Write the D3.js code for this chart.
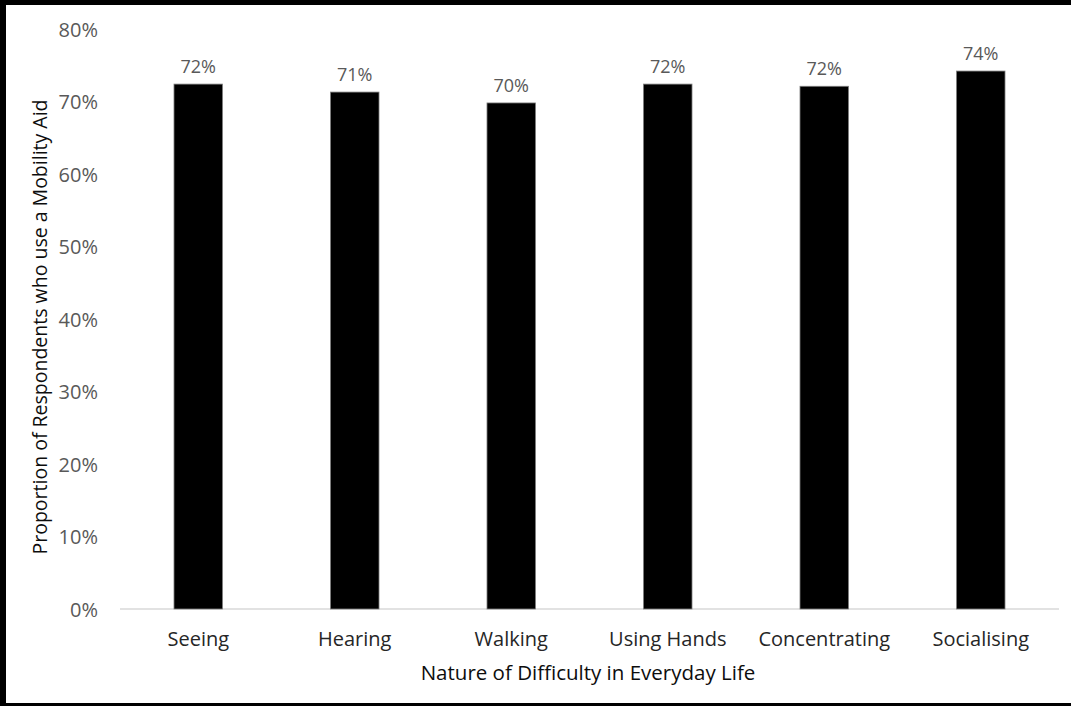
<!DOCTYPE html>
<html>
<head>
<meta charset="utf-8">
<script src="https://cdn.jsdelivr.net/npm/d3@7"></script>
<style>
  html, body { margin: 0; padding: 0; background: #fff; }
  svg { display: block; }
  text { font-family: "Open Sans", sans-serif; }
</style>
</head>
<body>
<svg id="chart" width="1071" height="710"></svg>
<script>
const categories = ["Seeing", "Hearing", "Walking", "Using Hands", "Concentrating", "Socialising"];
const values = [0.724, 0.713, 0.698, 0.724, 0.721, 0.742];
const valueLabels = ["72%", "71%", "70%", "72%", "72%", "74%"];
const yTicks = [0, 0.1, 0.2, 0.3, 0.4, 0.5, 0.6, 0.7, 0.8];
const xTitle = "Nature of Difficulty in Everyday Life";
const yTitle = "Proportion of Respondents who use a Mobility Aid";

const svg = d3.select("#chart");
const W = 1071, H = 710;

// frame
svg.append("rect").attr("x", 0).attr("y", 0).attr("width", W).attr("height", H).attr("fill", "#fff");
svg.append("rect").attr("x", 0).attr("y", 0).attr("width", W).attr("height", 5).attr("fill", "#000");
svg.append("rect").attr("x", 0).attr("y", 0).attr("width", 6).attr("height", 706).attr("fill", "#000");
svg.append("rect").attr("x", 0).attr("y", 703).attr("width", W).attr("height", 3).attr("fill", "#000");

const pLeft = 120, pRight = 1059, pTop = 29, pBottom = 609;

const x = d3.scaleBand().domain(categories).range([pLeft, pRight]).paddingInner(0.69).paddingOuter(0.345);
const y = d3.scaleLinear().domain([0, 0.8]).range([pBottom, pTop]);

// baseline
svg.append("line").attr("x1", pLeft).attr("x2", pRight).attr("y1", y(0)).attr("y2", y(0))
  .attr("stroke", "#d9d9d9").attr("stroke-width", 1.5);

// y axis
const yAxis = d3.axisLeft(y).tickValues(yTicks).tickFormat(d3.format(".0%")).tickSize(0).tickPadding(0);
const gy = svg.append("g").attr("transform", "translate(98,0)").call(yAxis);
gy.select(".domain").remove();
gy.selectAll("text").attr("fill", "#595959").attr("font-size", "20px").attr("dy", "0.35em")
  .style("font-family", "'Open Sans', sans-serif");

// x axis
const xAxis = d3.axisBottom(x).tickSize(0).tickPadding(0);
const gx = svg.append("g").attr("transform", `translate(0,${pBottom})`).call(xAxis);
gx.select(".domain").remove();
gx.selectAll("text").attr("fill", "#262626").attr("font-size", "20px").attr("dy", null).attr("y", 37)
  .style("font-family", "'Open Sans', sans-serif");

// bars
svg.append("g").selectAll("rect").data(categories).join("rect")
  .attr("x", d => x(d)).attr("width", x.bandwidth())
  .attr("y", (d, i) => y(values[i])).attr("height", (d, i) => y(0) - y(values[i]))
  .attr("fill", "#000").attr("stroke", "#7f7f7f").attr("stroke-width", 0.8);

// value labels
svg.append("g").selectAll("text").data(categories).join("text")
  .attr("x", d => x(d) + x.bandwidth() / 2)
  .attr("y", (d, i) => y(values[i]) - 11)
  .attr("text-anchor", "middle").attr("fill", "#595959").attr("font-size", "18px")
  .text((d, i) => valueLabels[i]);

// axis titles
svg.append("text").attr("x", 588).attr("y", 680).attr("text-anchor", "middle")
  .attr("fill", "#0d0d0d").attr("font-size", "20.5px").text(xTitle);
svg.append("text").attr("transform", "translate(47,327) rotate(-90)").attr("text-anchor", "middle")
  .attr("fill", "#0d0d0d").attr("font-size", "19.5px").text(yTitle);
</script>
</body>
</html>
